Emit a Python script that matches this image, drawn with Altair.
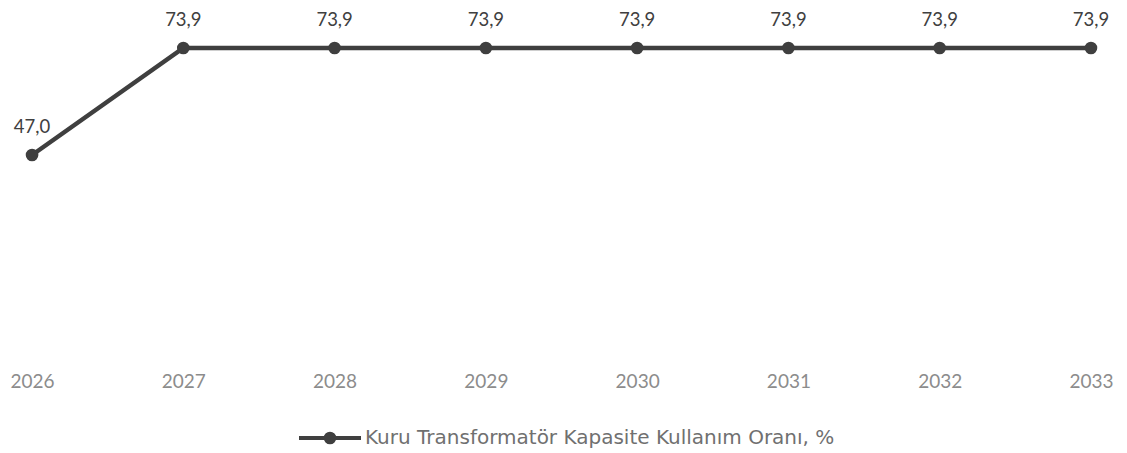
import altair as alt
import pandas as pd

years = ["2026", "2027", "2028", "2029", "2030", "2031", "2032", "2033"]
values = [47.0, 73.9, 73.9, 73.9, 73.9, 73.9, 73.9, 73.9]
series_name = "Kuru Transformatör Kapasite Kullanım Oranı, %"

df = pd.DataFrame({"year": years, "value": values, "series": [series_name] * len(years)})

FONT = "Lato"
LINE = "#3f3f3f"

x = alt.X(
    "year:O", sort=years,
    scale=alt.Scale(type="point", padding=0.159),
    axis=alt.Axis(title=None, labelAngle=0, domain=False, ticks=False, grid=False,
                  labelPadding=30, labelFontSize=19, labelColor="#8c8c8c", labelFont=FONT),
)
y = alt.Y("value:Q", scale=alt.Scale(domain=[0, 82.45], nice=False), axis=None)

base = alt.Chart(df).encode(x=x, y=y)

legend_symbol = ("M-1,0L1,0M-0.14,0A0.14,0.14,0,1,1,0.14,0"
                 "A0.14,0.14,0,1,1,-0.14,0Z")

line = base.mark_line(strokeWidth=4.5).encode(
    color=alt.Color(
        "series:N",
        scale=alt.Scale(range=[LINE]),
        legend=alt.Legend(
            title=None, orient="none", legendX=289, legendY=391,
            symbolType=legend_symbol, symbolSize=3844, symbolStrokeWidth=4,
            symbolFillColor=LINE, labelFontSize=20, labelFont="DejaVu Sans",
            labelColor="#707070", labelOffset=2, labelLimit=800,
        ),
    )
)
points = base.mark_point(filled=True, size=160, opacity=1, color=LINE)
labels = base.transform_calculate(
    label="replace(format(datum.value, '.1f'), '.', ',')"
).mark_text(dy=-28, fontSize=18.5, font=FONT, color="#404040").encode(text="label:N")

chart = (
    alt.layer(line, points, labels)
    .properties(
        width=1107, height=328,
        autosize=alt.AutoSizeParams(type="none"),
        padding={"left": 0, "top": 6, "right": 4, "bottom": 111},
        view=alt.ViewBackground(stroke="transparent", strokeWidth=0),
    )
    .configure_view(strokeWidth=0, stroke="transparent")
    .configure(background="white")
)

chart.save("out.html", embed_options={"renderer": "svg", "actions": False})
